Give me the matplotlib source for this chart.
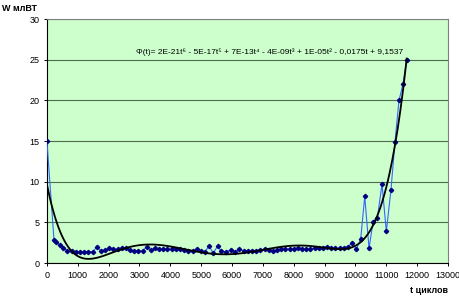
import numpy as np
import matplotlib.pyplot as plt

plt.rcParams['font.family'] = ['Liberation Sans', 'DejaVu Sans']

# measured points (t in cycles, W in mW)
t = [0, 228, 290, 420, 530, 660, 800, 940, 1070, 1200, 1340, 1480, 1630,
     1750, 1880, 2020, 2150, 2290, 2420, 2550, 2690, 2830, 2960, 3100,
     3230, 3370, 3500, 3640, 3770, 3900, 4040, 4180, 4310, 4450, 4580,
     4720, 4850, 4990, 5120, 5260, 5390, 5530, 5650, 5800, 5950, 6110,
     6240, 6380, 6510, 6650, 6790, 6920, 7060, 7190, 7330, 7460, 7600,
     7730, 7870, 8000, 8140, 8270, 8410, 8540, 8680, 8810, 8950, 9080,
     9220, 9350, 9490, 9620, 9760, 9900, 10030, 10170, 10300, 10440,
     10570, 10710, 10860, 11000, 11150, 11280, 11410, 11540, 11660]
w = [15.0, 2.9, 2.65, 2.2, 1.9, 1.5, 1.5, 1.4, 1.4, 1.4, 1.4, 1.4, 2.0,
     1.5, 1.6, 1.8, 1.7, 1.7, 1.8, 1.8, 1.6, 1.5, 1.5, 1.5,
     2.0, 1.6, 1.8, 1.7, 1.7, 1.7, 1.7, 1.7, 1.7, 1.6, 1.5,
     1.5, 1.7, 1.5, 1.4, 2.1, 1.2, 2.1, 1.5, 1.4, 1.6, 1.4,
     1.7, 1.5, 1.5, 1.5, 1.5, 1.6, 1.7, 1.6, 1.5, 1.6, 1.7,
     1.7, 1.7, 1.7, 1.9, 1.7, 1.7, 1.7, 1.9, 1.9, 1.9, 2.0,
     1.9, 1.8, 1.8, 1.9, 2.0, 2.5, 1.7, 3.0, 8.2, 1.8,
     5.1, 5.6, 9.7, 3.9, 9.0, 14.9, 20.0, 22.0, 25.0]

equation = ('Φ(t)= 2E-21t⁶ - 5E-17t⁵ + 7E-13t⁴ - 4E-09t³ + 1E-05t² '
            '- 0,0175t + 9,1537')

# 6th order polynomial trend, like the spreadsheet trendline
trend = np.polynomial.Polynomial.fit(t, w, 6)
tt = np.linspace(0, t[-1], 400)

fig = plt.figure(figsize=(4.6, 2.98), dpi=100)
ax = fig.add_axes([0.102, 0.117, 0.872, 0.819])
ax.set_facecolor('#ccffcc')

ax.plot(t, w, color='#3366ff', lw=0.8, marker='D', ms=2.2,
        mfc='#000080', mec='#000080', zorder=3)
ax.plot(tt, trend(tt), color='black', lw=1.3, zorder=4)

ax.set_xlim(0, 13000)
ax.set_ylim(0, 30)
ax.set_xticks(range(0, 13001, 1000))
ax.set_yticks(range(0, 31, 5))
ax.yaxis.grid(True, color='#4d6b4d', lw=0.8)
ax.set_axisbelow(True)
ax.tick_params(labelsize=6.5, length=2, width=0.7, colors='black')

for side in ['top', 'right']:
    ax.spines[side].set_color('#808080')
for side in ['left', 'bottom']:
    ax.spines[side].set_color('black')

ax.text(2900, 25.4, equation, fontsize=6, va='bottom')

fig.text(0.005, 0.985, 'W млВТ', fontsize=6.5, fontweight='bold', va='top')
fig.text(0.975, 0.01, 't циклов', fontsize=6.5, fontweight='bold',
         ha='right', va='bottom')

fig.savefig('out.png', dpi=100)
